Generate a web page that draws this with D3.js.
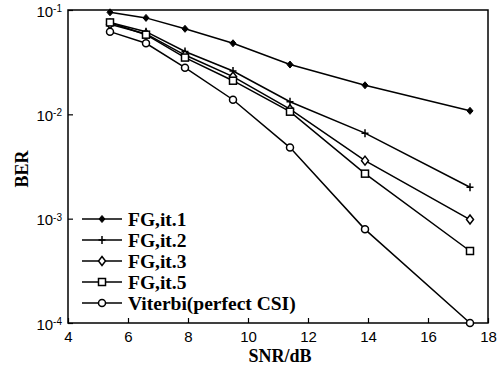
<!DOCTYPE html>
<html>
<head>
<meta charset="utf-8">
<script src="https://cdn.jsdelivr.net/npm/d3@7"></script>
<style>
  body { margin: 0; background: #fff; }
  svg { display: block; }
</style>
</head>
<body>
<div id="chart"></div>
<script>
var width = 502, height = 366;
var margin = {top: 10, right: 14, bottom: 43, left: 68};

// SNR in dB
var snr = [5.4, 6.6, 7.9, 9.5, 11.4, 13.9, 17.4];
// BER per curve
var it1 = [0.095, 0.084, 0.066, 0.048, 0.030, 0.019, 0.0108];
var it2 = [0.076, 0.062, 0.040, 0.026, 0.0132, 0.0066, 0.0020];
var it3 = [0.073, 0.059, 0.037, 0.023, 0.0112, 0.0036, 0.00098];
var it5 = [0.076, 0.058, 0.035, 0.021, 0.0106, 0.0027, 0.00049];
var viterbi = [0.062, 0.048, 0.028, 0.0138, 0.0048, 0.00079, 0.0001];
var seriesNames = ["FG,it.1", "FG,it.2", "FG,it.3", "FG,it.5", "Viterbi(perfect CSI)"];
var seriesMarks = ["fdiamond", "plus", "diamond", "square", "circle"];
var xTicks = [4, 6, 8, 10, 12, 14, 16, 18];
var yTicks = [1e-4, 1e-3, 1e-2, 1e-1];
var yExp = ["-4", "-3", "-2", "-1"];

var allSeries = [it1, it2, it3, it5, viterbi];

var svg = d3.select("#chart").append("svg")
  .attr("width", width).attr("height", height);

var x = d3.scaleLinear().domain([4, 18]).range([margin.left, width - margin.right]);
var y = d3.scaleLog().domain([1e-4, 1e-1]).range([height - margin.bottom, margin.top]);

var g = svg.append("g");

// frame
g.append("rect")
  .attr("x", x(4)).attr("y", y(1e-1))
  .attr("width", x(18) - x(4)).attr("height", y(1e-4) - y(1e-1))
  .attr("fill", "none").attr("stroke", "#000").attr("stroke-width", 1.5);

// x axis
var xAxis = d3.axisBottom(x).tickValues(xTicks).tickSizeInner(-5).tickSizeOuter(0).tickPadding(8);
var xg = g.append("g").attr("transform", "translate(0," + y(1e-4) + ")").call(xAxis);
xg.select(".domain").remove();
xg.selectAll("line").attr("stroke-width", 1.2);
xg.selectAll("text").attr("font-family", "Liberation Sans, Arial, sans-serif")
  .attr("font-size", 15).attr("fill", "#000");

// y axis
var yAxis = d3.axisLeft(y).tickValues(yTicks).tickSizeInner(-5).tickSizeOuter(0).tickFormat("");
var yg = g.append("g").attr("transform", "translate(" + x(4) + ",0)").call(yAxis);
yg.select(".domain").remove();
yg.selectAll("line").attr("stroke-width", 1.2);
yg.selectAll(".tick").each(function(d, i) {
  var t = d3.select(this).append("text")
    .attr("x", -6).attr("dy", "0.4em")
    .attr("text-anchor", "end")
    .attr("font-family", "Liberation Sans, Arial, sans-serif")
    .attr("font-size", 15).attr("fill", "#000");
  t.append("tspan").text("10");
  t.append("tspan").attr("dy", "-0.45em").attr("font-size", 10).text(yExp[i]);
});

// axis titles
svg.append("text")
  .attr("x", 280).attr("y", 362)
  .attr("text-anchor", "middle")
  .attr("font-family", "Liberation Serif, Times New Roman, serif")
  .attr("font-weight", "bold").attr("font-size", 18)
  .text("SNR/dB");

svg.append("text")
  .attr("transform", "translate(28,169) rotate(-90)")
  .attr("text-anchor", "middle")
  .attr("font-family", "Liberation Serif, Times New Roman, serif")
  .attr("font-weight", "bold").attr("font-size", 18)
  .text("BER");

function drawMark(sel, kind) {
  if (kind === "fdiamond") {
    sel.append("path").attr("d", "M0,-3.5L3,0L0,3.5L-3,0Z")
      .attr("fill", "#000").attr("stroke", "#000").attr("stroke-width", 1);
  } else if (kind === "plus") {
    sel.append("path").attr("d", "M-3.5,0H3.5M0,-4V4")
      .attr("stroke", "#000").attr("stroke-width", 1.5).attr("fill", "none");
  } else if (kind === "diamond") {
    sel.append("path").attr("d", "M0,-4.5L3.5,0L0,4.5L-3.5,0Z")
      .attr("fill", "#fff").attr("stroke", "#000").attr("stroke-width", 1.5);
  } else if (kind === "square") {
    sel.append("rect").attr("x", -3.5).attr("y", -3.5).attr("width", 7).attr("height", 7)
      .attr("fill", "#fff").attr("stroke", "#000").attr("stroke-width", 1.5);
  } else if (kind === "circle") {
    sel.append("circle").attr("r", 3.5)
      .attr("fill", "#fff").attr("stroke", "#000").attr("stroke-width", 1.5);
  }
}

var line = d3.line().x(function(d, i) { return x(snr[i]); }).y(function(d) { return y(d); });

allSeries.forEach(function(vals, s) {
  g.append("path").datum(vals)
    .attr("d", line)
    .attr("fill", "none").attr("stroke", "#000").attr("stroke-width", 1.5);
  vals.forEach(function(v, i) {
    var m = g.append("g").attr("transform", "translate(" + x(snr[i]) + "," + y(v) + ")");
    drawMark(m, seriesMarks[s]);
  });
});

// legend
var leg = svg.append("g").attr("transform", "translate(82,219)");
seriesNames.forEach(function(name, i) {
  var row = leg.append("g").attr("transform", "translate(0," + (i * 21) + ")");
  row.append("line").attr("x1", 0).attr("x2", 40).attr("y1", 0).attr("y2", 0)
    .attr("stroke", "#000").attr("stroke-width", 1.5);
  var m = row.append("g").attr("transform", "translate(20,0)");
  drawMark(m, seriesMarks[i]);
  row.append("text").attr("x", 46).attr("y", 0).attr("dy", "0.35em")
    .attr("font-family", "Liberation Serif, Times New Roman, serif")
    .attr("font-weight", "bold").attr("font-size", 19.5)
    .text(name);
});
</script>
</body>
</html>
